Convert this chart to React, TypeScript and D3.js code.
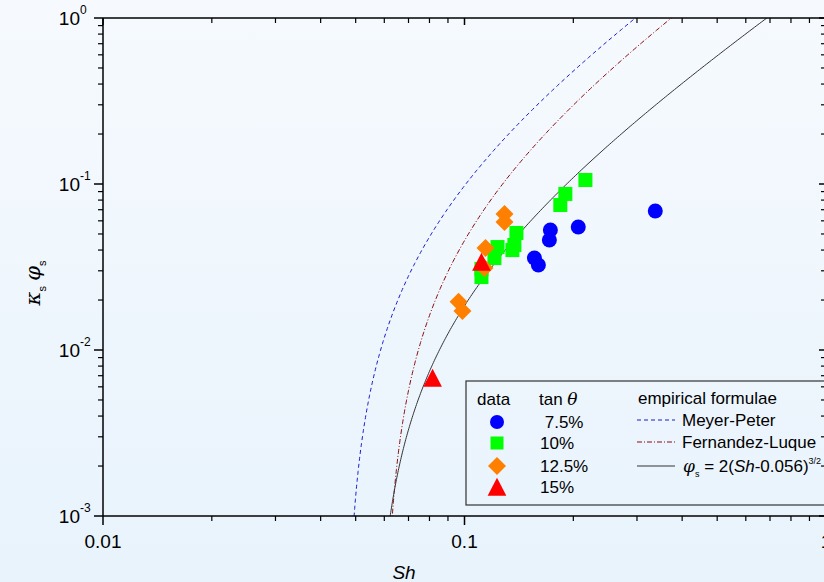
import React from "react";
import * as d3 from "d3";

// ---- data ----
const blueSh = [0.1728, 0.1717, 0.2064, 0.1561, 0.1601, 0.3371];
const blueK = [0.0528, 0.046, 0.0551, 0.0358, 0.0325, 0.0688];
const greenSh = [0.216, 0.1901, 0.1841, 0.1392, 0.1374, 0.1357, 0.1234, 0.121, 0.1114, 0.1114];
const greenK = [0.1057, 0.0871, 0.0747, 0.0507, 0.0429, 0.04, 0.0417, 0.0358, 0.0308, 0.0275];
const orangeSh = [0.129, 0.129, 0.1143, 0.1136, 0.0963, 0.0987];
const orangeK = [0.066, 0.059, 0.0412, 0.0312, 0.0195, 0.0172];
const redSh = [0.1114, 0.0816];
const redK = [0.0334, 0.00669];

// empirical formulae: phi = coef * (Sh - thr)^1.5
const formulaNames = ["Meyer-Peter", "Fernandez-Luque", "formula"];
const formulaCoef = [8, 5.7, 2];
const formulaThr = [0.047, 0.06, 0.056];

const legendLabels = [" 7.5%", "10%", "12.5%", "15%"];
const xTickVals = [0.01, 0.1, 1];
const xTickLabels = ["0.01", "0.1", "1"];
const yTickExp = [0, -1, -2, -3];

const W = 824, H = 582;
const L = 103, R = 826, T = 18, B = 516;

export default function App() {
  const x = d3.scaleLog().domain([0.01, 1]).range([L, R]);
  const y = d3.scaleLog().domain([0.001, 1]).range([B, T]);
  const font = "'Liberation Sans', Arial, sans-serif";

  const xMinor: number[] = [];
  [0.01, 0.1].forEach((d) => { for (let k = 2; k <= 9; k++) xMinor.push(d * k); });
  const yMinor: number[] = [];
  [0.001, 0.01, 0.1].forEach((d) => { for (let k = 2; k <= 9; k++) yMinor.push(d * k); });

  const curves = formulaCoef.map((c, i) => {
    const thr = formulaThr[i];
    const startD = Math.pow(0.0009 / c, 2 / 3);
    const pts: [number, number][] = [];
    const n = 300;
    for (let j = 0; j <= n; j++) {
      const dd = startD * Math.pow((1 - thr) / startD, j / n);
      const sh = thr + dd;
      pts.push([sh, c * Math.pow(dd, 1.5)]);
    }
    return d3.line<[number, number]>().x((p) => x(p[0])).y((p) => y(p[1]))(pts) || "";
  });
  const curveStyles = [
    { stroke: "#1a1acc", dash: "4,3", w: 1 },
    { stroke: "#8b0a0a", dash: "5,2,1,2", w: 1 },
    { stroke: "#333333", dash: "", w: 1 },
  ];

  const dia = (cx: number, cy: number, h: number) =>
    `M${cx},${cy - h} L${cx + h},${cy} L${cx},${cy + h} L${cx - h},${cy} Z`;
  const tri = (cx: number, cy: number, s: number) =>
    `M${cx},${cy - s * 0.6} L${cx + s * 0.55},${cy + s * 0.45} L${cx - s * 0.55},${cy + s * 0.45} Z`;

  const legX = 497;
  const legRows = [422, 443, 466, 487];

  return (
    <svg width={W} height={H} style={{ position: "absolute", left: 0, top: 0 }} fontFamily={font}>
      <defs>
        <linearGradient id="bg" x1="0" y1="0" x2="0" y2="1">
          <stop offset="0" stopColor="#f6fafe" />
          <stop offset="1" stopColor="#e8f3fc" />
        </linearGradient>
        <clipPath id="plot">
          <rect x={L} y={T} width={R - L} height={B - T} />
        </clipPath>
      </defs>
      <rect x={0} y={0} width={W} height={H} fill="url(#bg)" />

      {/* curves */}
      <g clipPath="url(#plot)" fill="none">
        {curves.map((p, i) => (
          <path key={i} d={p} stroke={curveStyles[i].stroke} strokeWidth={curveStyles[i].w}
            strokeDasharray={curveStyles[i].dash || undefined} />
        ))}
      </g>

      {/* data points */}
      <g>
        {blueSh.map((s, i) => (
          <circle key={"b" + i} cx={x(s)} cy={y(blueK[i])} r={7.5} fill="#0000ff" />
        ))}
        {greenSh.map((s, i) => (
          <rect key={"g" + i} x={x(s) - 7} y={y(greenK[i]) - 7} width={14} height={14} fill="#00ff00" />
        ))}
        {orangeSh.map((s, i) => (
          <path key={"o" + i} d={dia(x(s), y(orangeK[i]), 9)} fill="#ff8000" />
        ))}
        {redSh.map((s, i) => (
          <path key={"r" + i} d={tri(x(s), y(redK[i]), 17)} fill="#ff0000" />
        ))}
      </g>

      {/* axes */}
      <g stroke="#000" fill="none">
        <line x1={L} y1={T} x2={L} y2={B} strokeWidth={1.5} />
        <line x1={L} y1={B} x2={R} y2={B} strokeWidth={1.5} />
        <line x1={L} y1={T} x2={R} y2={T} strokeWidth={1.5} />
        <line x1={R} y1={T} x2={R} y2={B} strokeWidth={1.5} />
        {xTickVals.map((v) => (
          <g key={"xt" + v}>
            <line x1={x(v)} x2={x(v)} y1={B} y2={B + 9} strokeWidth={1.5} />
            <line x1={x(v)} x2={x(v)} y1={T} y2={T + 7} strokeWidth={1.5} />
          </g>
        ))}
        {xMinor.map((v, i) => (
          <g key={"xm" + i}>
            <line x1={x(v)} x2={x(v)} y1={B} y2={B + 5} strokeWidth={1.2} />
            <line x1={x(v)} x2={x(v)} y1={T} y2={T + 5} strokeWidth={1.2} />
          </g>
        ))}
        {yTickExp.map((e) => (
          <g key={"yt" + e}>
            <line x1={L - 9} x2={L} y1={y(Math.pow(10, e))} y2={y(Math.pow(10, e))} strokeWidth={1.5} />
            <line x1={R - 7} x2={R} y1={y(Math.pow(10, e))} y2={y(Math.pow(10, e))} strokeWidth={1.5} />
          </g>
        ))}
        {yMinor.map((v, i) => (
          <g key={"ym" + i}>
            <line x1={L - 5} x2={L} y1={y(v)} y2={y(v)} strokeWidth={1.2} />
            <line x1={R - 5} x2={R} y1={y(v)} y2={y(v)} strokeWidth={1.2} />
          </g>
        ))}
      </g>

      {/* tick labels */}
      <g fill="#000" fontSize={19}>
        {xTickVals.map((v, i) => (
          <text key={"xl" + v} x={x(v)} y={B + 32} textAnchor="middle">{xTickLabels[i]}</text>
        ))}
        {yTickExp.map((e) => (
          <text key={"yl" + e} x={80} y={y(Math.pow(10, e)) + 7} textAnchor="end">
            10
          </text>
        ))}
        {yTickExp.map((e) => (
          <text key={"ys" + e} x={80} y={y(Math.pow(10, e)) - 4} fontSize={12}>
            {e === 0 ? "0" : String(e)}
          </text>
        ))}
      </g>

      {/* axis titles */}
      <text x={404} y={579} textAnchor="middle" fontSize={19} fontStyle="italic">Sh</text>
      <g transform="translate(40,283) rotate(-90)">
        <text x={0} y={0} textAnchor="middle" fontSize={19}>
          <tspan fontStyle="italic" fontFamily="'DejaVu Serif', serif" fontSize={21}>κ</tspan>
          <tspan fontSize={11} dy={6}>s</tspan>
          <tspan dy={-6}> </tspan>
          <tspan fontStyle="italic" fontFamily="'DejaVu Serif', serif" fontSize={21}>φ</tspan>
          <tspan fontSize={11} dy={6}>s</tspan>
        </text>
      </g>

      {/* legend */}
      <rect x={466} y={381} width={370} height={124} fill="none" stroke="#333" strokeWidth={1.2} />
      <g fontSize={17} fill="#000">
        <text x={477} y={405}>data</text>
        <text x={539} y={405}>tan <tspan fontStyle="italic" fontFamily="'DejaVu Serif', serif">θ</tspan></text>
        <text x={638} y={404}>empirical formulae</text>
        <circle cx={legX} cy={legRows[0]} r={7} fill="#0000ff" />
        <rect x={legX - 6.5} y={legRows[1] - 6.5} width={13} height={13} fill="#00ff00" />
        <path d={dia(legX, legRows[2], 9)} fill="#ff8000" />
        <path d={tri(legX, legRows[3] + 1, 17)} fill="#ff0000" />
        {legendLabels.map((t, i) => (
          <text key={"ll" + i} x={540} y={legRows[i] + 6} style={{ whiteSpace: "pre" }}>{t}</text>
        ))}
        {[420, 442, 466].map((ly, i) => (
          <line key={"ls" + i} x1={637} x2={675} y1={ly} y2={ly} stroke={curveStyles[i].stroke}
            strokeWidth={1} strokeDasharray={curveStyles[i].dash || undefined} />
        ))}
        <text x={682} y={426}>{formulaNames[0]}</text>
        <text x={682} y={448}>{formulaNames[1]}</text>
        <text x={683} y={472}>
          <tspan fontStyle="italic" fontFamily="'DejaVu Serif', serif">φ</tspan>
          <tspan fontSize={9} dy={5}>s</tspan>
          <tspan dy={-5}> = 2(</tspan>
          <tspan fontStyle="italic">Sh</tspan>
          <tspan>-0.056)</tspan>
          <tspan fontSize={9} dy={-8}>3/2</tspan>
        </text>
      </g>
    </svg>
  );
}
